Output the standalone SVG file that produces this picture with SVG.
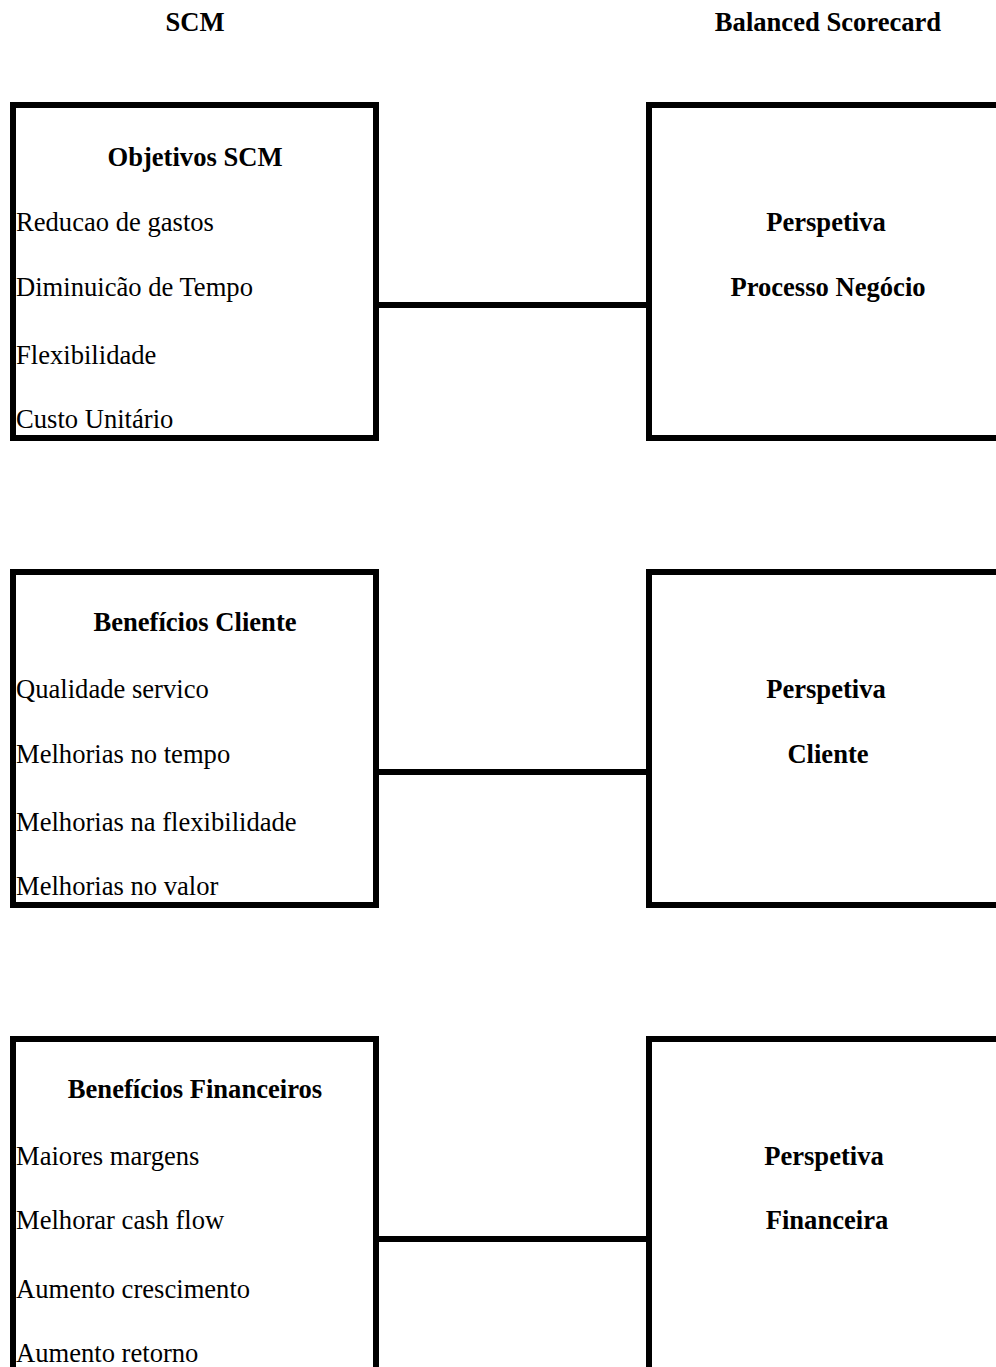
<svg xmlns="http://www.w3.org/2000/svg" width="996" height="1367" viewBox="0 0 996 1367">
<style>
.box{fill:#fff;stroke:#000;stroke-width:6}
.conn{stroke:#000;stroke-width:6;fill:none}
text{font-family:"Liberation Serif","Times New Roman",serif;font-size:26.6px;fill:#000}
.b{font-weight:bold}
.c{text-anchor:middle}
</style>
<rect width="996" height="1367" fill="#fff"/>
<g id="headers">
<text class="b c" x="195" y="31">SCM</text>
<text class="b c" x="828" y="31">Balanced Scorecard</text>
</g>
<g id="connectors">
<line class="conn" x1="376" y1="305" x2="649" y2="305"/>
<line class="conn" x1="376" y1="772" x2="649" y2="772"/>
<line class="conn" x1="376" y1="1239" x2="649" y2="1239"/>
</g>
<g id="objetivos-scm">
<rect class="box" x="13" y="105" width="363" height="333"/>
<text class="b c" x="195" y="166">Objetivos SCM</text>
<text x="16" y="231">Reducao de gastos</text>
<text x="16" y="296">Diminuicão de Tempo</text>
<text x="16" y="364">Flexibilidade</text>
<text x="16" y="428">Custo Unitário</text>
</g>
<g id="perspetiva-processo">
<rect class="box" x="649" y="105" width="400" height="333"/>
<text class="b c" x="826" y="231">Perspetiva</text>
<text class="b c" x="828" y="296">Processo Negócio</text>
</g>
<g id="beneficios-cliente">
<rect class="box" x="13" y="572" width="363" height="333"/>
<text class="b c" x="195" y="631">Benefícios Cliente</text>
<text x="16" y="698">Qualidade servico</text>
<text x="16" y="763">Melhorias no tempo</text>
<text x="16" y="831">Melhorias na flexibilidade</text>
<text x="16" y="895">Melhorias no valor</text>
</g>
<g id="perspetiva-cliente">
<rect class="box" x="649" y="572" width="400" height="333"/>
<text class="b c" x="826" y="698">Perspetiva</text>
<text class="b c" x="828" y="763">Cliente</text>
</g>
<g id="beneficios-financeiros">
<rect class="box" x="13" y="1039" width="363" height="400"/>
<text class="b c" x="195" y="1098">Benefícios Financeiros</text>
<text x="16" y="1165">Maiores margens</text>
<text x="16" y="1229">Melhorar cash flow</text>
<text x="16" y="1298">Aumento crescimento</text>
<text x="16" y="1362">Aumento retorno</text>
</g>
<g id="perspetiva-financeira">
<rect class="box" x="649" y="1039" width="400" height="400"/>
<text class="b c" x="824" y="1165">Perspetiva</text>
<text class="b c" x="827" y="1229">Financeira</text>
</g>
</svg>
